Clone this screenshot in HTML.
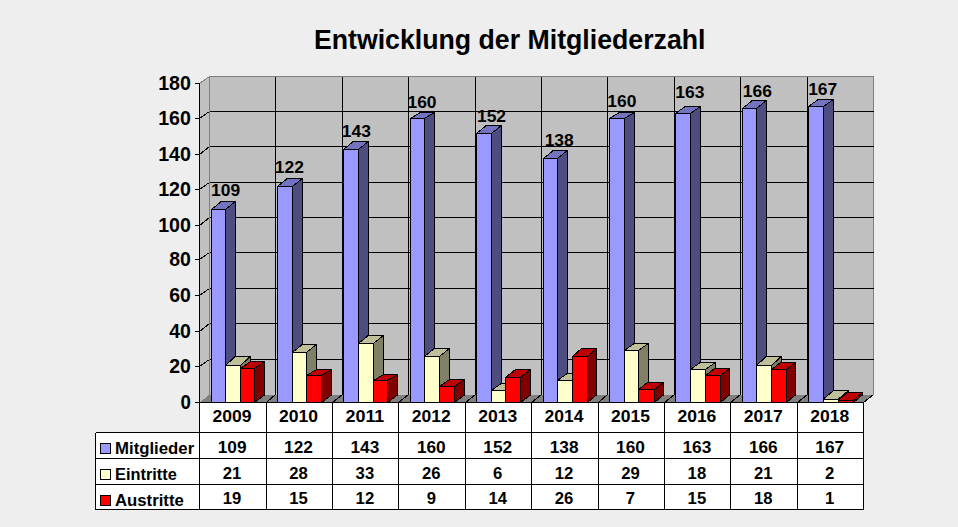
<!DOCTYPE html>
<html><head><meta charset="utf-8"><title>Entwicklung der Mitgliederzahl</title>
<style>html,body{margin:0;padding:0;background:#eeeeee;overflow:hidden}</style></head>
<body>
<svg width="958" height="527" viewBox="0 0 958 527" style="display:block;font-family:'Liberation Sans',sans-serif;font-weight:bold"><rect width="958" height="527" fill="#eeeeee"/>
<g shape-rendering="crispEdges">
<polygon points="199.5,83.5 209.5,76.5 209.5,394.5 199.5,402.5" fill="#c0c0c0"/>
<rect x="209.5" y="76.5" width="664.0" height="318.0" fill="#c0c0c0"/>
<polygon points="199.5,402.5 863.5,402.5 873.5,394.5 209.5,394.5" fill="#808080"/>
<path d="M199.5,83.5L209.5,76.5H873.5V394.5 M209.5,76.5V394.5" stroke="#808080" stroke-width="1" fill="none"/>
<path d="M195.0,402.5H199.5 M209.5,359.5H873.5 M199.5,366.5L209.5,359.5 M195.0,366.5H199.5 M209.5,323.5H873.5 M199.5,331.5L209.5,323.5 M195.0,331.5H199.5 M209.5,288.5H873.5 M199.5,295.5L209.5,288.5 M195.0,295.5H199.5 M209.5,252.5H873.5 M199.5,259.5L209.5,252.5 M195.0,259.5H199.5 M209.5,217.5H873.5 M199.5,225.5L209.5,217.5 M195.0,225.5H199.5 M209.5,182.5H873.5 M199.5,189.5L209.5,182.5 M195.0,189.5H199.5 M209.5,146.5H873.5 M199.5,154.5L209.5,146.5 M195.0,154.5H199.5 M209.5,111.5H873.5 M199.5,118.5L209.5,111.5 M195.0,118.5H199.5 M195.0,83.5H199.5 M275.5,76.5V394.5 M266.5,402.5L275.5,394.5 M342.5,76.5V394.5 M332.5,402.5L342.5,394.5 M408.5,76.5V394.5 M398.5,402.5L408.5,394.5 M475.5,76.5V394.5 M465.5,402.5L475.5,394.5 M541.5,76.5V394.5 M531.5,402.5L541.5,394.5 M607.5,76.5V394.5 M598.5,402.5L607.5,394.5 M674.5,76.5V394.5 M664.5,402.5L674.5,394.5 M740.5,76.5V394.5 M730.5,402.5L740.5,394.5 M807.5,76.5V394.5 M797.5,402.5L807.5,394.5" stroke="#000" stroke-width="1" fill="none"/>
<path d="M863.5,402.5L873.5,394.5" stroke="#000" stroke-width="1" fill="none"/>
<g stroke="#000" stroke-width="1" stroke-linejoin="round">
<polygon points="225.5,402.5 235.20,394.90 235.20,201.5 225.5,209.5" fill="#4d4d80"/><polygon points="211.5,209.5 225.5,209.5 235.20,201.5 221.20,201.5" fill="#7373bf"/><rect x="211.5" y="209.5" width="14.0" height="193.0" fill="#9999ff"/>
<polygon points="240.5,402.5 250.20,394.90 250.20,356.5 240.5,365.5" fill="#808066"/><polygon points="225.5,365.5 240.5,365.5 250.20,356.5 235.20,356.5" fill="#bfbf99"/><rect x="225.5" y="365.5" width="15.0" height="37.0" fill="#ffffcc"/>
<polygon points="254.5,402.5 264.50,394.90 264.50,361.5 254.5,368.5" fill="#800000"/><polygon points="240.5,368.5 254.5,368.5 264.50,361.5 250.50,361.5" fill="#bf0000"/><rect x="240.5" y="368.5" width="14.0" height="34.0" fill="#ff0000"/>
<polygon points="292.5,402.5 302.20,394.90 302.20,178.5 292.5,186.5" fill="#4d4d80"/><polygon points="277.5,186.5 292.5,186.5 302.20,178.5 287.20,178.5" fill="#7373bf"/><rect x="277.5" y="186.5" width="15.0" height="216.0" fill="#9999ff"/>
<polygon points="306.5,402.5 316.20,394.90 316.20,344.5 306.5,352.5" fill="#808066"/><polygon points="292.5,352.5 306.5,352.5 316.20,344.5 302.20,344.5" fill="#bfbf99"/><rect x="292.5" y="352.5" width="14.0" height="50.0" fill="#ffffcc"/>
<polygon points="321.5,402.5 331.50,394.90 331.50,369.5 321.5,375.5" fill="#800000"/><polygon points="306.5,375.5 321.5,375.5 331.50,369.5 316.50,369.5" fill="#bf0000"/><rect x="306.5" y="375.5" width="15.0" height="27.0" fill="#ff0000"/>
<polygon points="358.5,402.5 368.20,394.90 368.20,141.5 358.5,149.5" fill="#4d4d80"/><polygon points="343.5,149.5 358.5,149.5 368.20,141.5 353.20,141.5" fill="#7373bf"/><rect x="343.5" y="149.5" width="15.0" height="253.0" fill="#9999ff"/>
<polygon points="373.5,402.5 383.20,394.90 383.20,335.5 373.5,343.5" fill="#808066"/><polygon points="358.5,343.5 373.5,343.5 383.20,335.5 368.20,335.5" fill="#bfbf99"/><rect x="358.5" y="343.5" width="15.0" height="59.0" fill="#ffffcc"/>
<polygon points="387.5,402.5 397.50,394.90 397.50,374.5 387.5,380.5" fill="#800000"/><polygon points="373.5,380.5 387.5,380.5 397.50,374.5 383.50,374.5" fill="#bf0000"/><rect x="373.5" y="380.5" width="14.0" height="22.0" fill="#ff0000"/>
<polygon points="424.5,402.5 434.20,394.90 434.20,112.5 424.5,118.5" fill="#4d4d80"/><polygon points="410.5,118.5 424.5,118.5 434.20,112.5 420.20,112.5" fill="#7373bf"/><rect x="410.5" y="118.5" width="14.0" height="284.0" fill="#9999ff"/>
<polygon points="439.5,402.5 449.20,394.90 449.20,348.5 439.5,356.5" fill="#808066"/><polygon points="424.5,356.5 439.5,356.5 449.20,348.5 434.20,348.5" fill="#bfbf99"/><rect x="424.5" y="356.5" width="15.0" height="46.0" fill="#ffffcc"/>
<polygon points="454.5,402.5 464.50,394.90 464.50,379.5 454.5,386.5" fill="#800000"/><polygon points="439.5,386.5 454.5,386.5 464.50,379.5 449.50,379.5" fill="#bf0000"/><rect x="439.5" y="386.5" width="15.0" height="16.0" fill="#ff0000"/>
<polygon points="491.5,402.5 501.20,394.90 501.20,125.5 491.5,133.5" fill="#4d4d80"/><polygon points="476.5,133.5 491.5,133.5 501.20,125.5 486.20,125.5" fill="#7373bf"/><rect x="476.5" y="133.5" width="15.0" height="269.0" fill="#9999ff"/>
<polygon points="505.5,402.5 515.20,394.90 515.20,383.5 505.5,390.5" fill="#808066"/><polygon points="491.5,390.5 505.5,390.5 515.20,383.5 501.20,383.5" fill="#bfbf99"/><rect x="491.5" y="390.5" width="14.0" height="12.0" fill="#ffffcc"/>
<polygon points="520.5,402.5 530.50,394.90 530.50,369.5 520.5,377.5" fill="#800000"/><polygon points="505.5,377.5 520.5,377.5 530.50,369.5 515.50,369.5" fill="#bf0000"/><rect x="505.5" y="377.5" width="15.0" height="25.0" fill="#ff0000"/>
<polygon points="557.5,402.5 567.20,394.90 567.20,150.5 557.5,158.5" fill="#4d4d80"/><polygon points="543.5,158.5 557.5,158.5 567.20,150.5 553.20,150.5" fill="#7373bf"/><rect x="543.5" y="158.5" width="14.0" height="244.0" fill="#9999ff"/>
<polygon points="572.5,402.5 582.20,394.90 582.20,373.5 572.5,380.5" fill="#808066"/><polygon points="557.5,380.5 572.5,380.5 582.20,373.5 567.20,373.5" fill="#bfbf99"/><rect x="557.5" y="380.5" width="15.0" height="22.0" fill="#ffffcc"/>
<polygon points="587.5,402.5 596.50,394.90 596.50,348.5 587.5,356.5" fill="#800000"/><polygon points="572.5,356.5 587.5,356.5 596.50,348.5 581.50,348.5" fill="#bf0000"/><rect x="572.5" y="356.5" width="15.0" height="46.0" fill="#ff0000"/>
<polygon points="624.5,402.5 634.20,394.90 634.20,112.5 624.5,118.5" fill="#4d4d80"/><polygon points="609.5,118.5 624.5,118.5 634.20,112.5 619.20,112.5" fill="#7373bf"/><rect x="609.5" y="118.5" width="15.0" height="284.0" fill="#9999ff"/>
<polygon points="638.5,402.5 648.20,394.90 648.20,343.5 638.5,350.5" fill="#808066"/><polygon points="624.5,350.5 638.5,350.5 648.20,343.5 634.20,343.5" fill="#bfbf99"/><rect x="624.5" y="350.5" width="14.0" height="52.0" fill="#ffffcc"/>
<polygon points="654.5,402.5 663.50,394.90 663.50,382.5 654.5,389.5" fill="#800000"/><polygon points="638.5,389.5 654.5,389.5 663.50,382.5 647.50,382.5" fill="#bf0000"/><rect x="638.5" y="389.5" width="16.0" height="13.0" fill="#ff0000"/>
<polygon points="690.5,402.5 700.20,394.90 700.20,106.5 690.5,113.5" fill="#4d4d80"/><polygon points="675.5,113.5 690.5,113.5 700.20,106.5 685.20,106.5" fill="#7373bf"/><rect x="675.5" y="113.5" width="15.0" height="289.0" fill="#9999ff"/>
<polygon points="705.5,402.5 715.20,394.90 715.20,362.5 705.5,369.5" fill="#808066"/><polygon points="690.5,369.5 705.5,369.5 715.20,362.5 700.20,362.5" fill="#bfbf99"/><rect x="690.5" y="369.5" width="15.0" height="33.0" fill="#ffffcc"/>
<polygon points="720.5,402.5 729.50,394.90 729.50,368.5 720.5,375.5" fill="#800000"/><polygon points="705.5,375.5 720.5,375.5 729.50,368.5 714.50,368.5" fill="#bf0000"/><rect x="705.5" y="375.5" width="15.0" height="27.0" fill="#ff0000"/>
<polygon points="756.5,402.5 766.20,394.90 766.20,100.5 756.5,108.5" fill="#4d4d80"/><polygon points="742.5,108.5 756.5,108.5 766.20,100.5 752.20,100.5" fill="#7373bf"/><rect x="742.5" y="108.5" width="14.0" height="294.0" fill="#9999ff"/>
<polygon points="771.5,402.5 781.20,394.90 781.20,356.5 771.5,365.5" fill="#808066"/><polygon points="756.5,365.5 771.5,365.5 781.20,356.5 766.20,356.5" fill="#bfbf99"/><rect x="756.5" y="365.5" width="15.0" height="37.0" fill="#ffffcc"/>
<polygon points="786.5,402.5 795.50,394.90 795.50,362.5 786.5,369.5" fill="#800000"/><polygon points="771.5,369.5 786.5,369.5 795.50,362.5 780.50,362.5" fill="#bf0000"/><rect x="771.5" y="369.5" width="15.0" height="33.0" fill="#ff0000"/>
<polygon points="823.5,402.5 833.20,394.90 833.20,99.5 823.5,106.5" fill="#4d4d80"/><polygon points="808.5,106.5 823.5,106.5 833.20,99.5 818.20,99.5" fill="#7373bf"/><rect x="808.5" y="106.5" width="15.0" height="296.0" fill="#9999ff"/>
<polygon points="838.5,402.5 848.20,394.90 848.20,390.9 838.5,399.0" fill="#808066"/><polygon points="823.5,399.0 838.5,399.0 848.20,390.9 833.20,390.9" fill="#bfbf99"/><rect x="823.5" y="399.0" width="15.0" height="3.5" fill="#ffffcc"/>
<polygon points="853.5,402.5 862.50,394.90 862.50,392.5 853.5,400.0" fill="#800000"/><polygon points="838.5,400.0 853.5,400.0 862.50,392.5 847.50,392.5" fill="#bf0000"/><rect x="838.5" y="400.0" width="15.0" height="2.5" fill="#ff0000"/>
</g>
<rect x="199.5" y="402.5" width="664.0" height="107.0" fill="#fff"/>
<rect x="95.5" y="432.5" width="104.0" height="77.0" fill="#fff"/>
<path d="M199.5,402.5V509.5 M266.5,402.5V509.5 M332.5,402.5V509.5 M398.5,402.5V509.5 M465.5,402.5V509.5 M531.5,402.5V509.5 M598.5,402.5V509.5 M664.5,402.5V509.5 M730.5,402.5V509.5 M797.5,402.5V509.5 M863.5,402.5V509.5 M95.5,432.5V509.5 M95.5,432.5H863.5 M95.5,458.5H863.5 M95.5,484.5H863.5 M95.5,509.5H863.5" stroke="#000" stroke-width="1" fill="none"/>
<path d="M199.5,83.5V402.5 M195.0,402.5H863.5" stroke="#000" stroke-width="1" fill="none"/>
<rect x="100.5" y="443.5" width="10" height="10" fill="#9999ff" stroke="#000" stroke-width="1"/>
<rect x="100.5" y="469.5" width="10" height="10" fill="#ffffcc" stroke="#000" stroke-width="1"/>
<rect x="100.5" y="495.5" width="10" height="10" fill="#ff0000" stroke="#000" stroke-width="1"/>
</g>
<text x="232.10" y="421.60" font-size="16.1" text-anchor="middle" textLength="38.94" lengthAdjust="spacingAndGlyphs">2009</text>
<text x="232.10" y="452.60" font-size="16.1" text-anchor="middle" textLength="28.79" lengthAdjust="spacingAndGlyphs">109</text>
<text x="232.10" y="478.80" font-size="16.1" text-anchor="middle" textLength="18.54" lengthAdjust="spacingAndGlyphs">21</text>
<text x="232.10" y="504.40" font-size="16.1" text-anchor="middle" textLength="18.54" lengthAdjust="spacingAndGlyphs">19</text>
<text x="298.50" y="421.60" font-size="16.1" text-anchor="middle" textLength="38.94" lengthAdjust="spacingAndGlyphs">2010</text>
<text x="298.50" y="452.60" font-size="16.1" text-anchor="middle" textLength="28.79" lengthAdjust="spacingAndGlyphs">122</text>
<text x="298.50" y="478.80" font-size="16.1" text-anchor="middle" textLength="18.54" lengthAdjust="spacingAndGlyphs">28</text>
<text x="298.50" y="504.40" font-size="16.1" text-anchor="middle" textLength="18.54" lengthAdjust="spacingAndGlyphs">15</text>
<text x="364.90" y="421.60" font-size="16.1" text-anchor="middle" textLength="38.94" lengthAdjust="spacingAndGlyphs">2011</text>
<text x="364.90" y="452.60" font-size="16.1" text-anchor="middle" textLength="28.79" lengthAdjust="spacingAndGlyphs">143</text>
<text x="364.90" y="478.80" font-size="16.1" text-anchor="middle" textLength="18.54" lengthAdjust="spacingAndGlyphs">33</text>
<text x="364.90" y="504.40" font-size="16.1" text-anchor="middle" textLength="18.54" lengthAdjust="spacingAndGlyphs">12</text>
<text x="431.30" y="421.60" font-size="16.1" text-anchor="middle" textLength="38.94" lengthAdjust="spacingAndGlyphs">2012</text>
<text x="431.30" y="452.60" font-size="16.1" text-anchor="middle" textLength="28.79" lengthAdjust="spacingAndGlyphs">160</text>
<text x="431.30" y="478.80" font-size="16.1" text-anchor="middle" textLength="18.54" lengthAdjust="spacingAndGlyphs">26</text>
<text x="431.30" y="504.40" font-size="16.1" text-anchor="middle" textLength="9.27" lengthAdjust="spacingAndGlyphs">9</text>
<text x="497.70" y="421.60" font-size="16.1" text-anchor="middle" textLength="38.94" lengthAdjust="spacingAndGlyphs">2013</text>
<text x="497.70" y="452.60" font-size="16.1" text-anchor="middle" textLength="28.79" lengthAdjust="spacingAndGlyphs">152</text>
<text x="497.70" y="478.80" font-size="16.1" text-anchor="middle" textLength="9.27" lengthAdjust="spacingAndGlyphs">6</text>
<text x="497.70" y="504.40" font-size="16.1" text-anchor="middle" textLength="18.54" lengthAdjust="spacingAndGlyphs">14</text>
<text x="564.10" y="421.60" font-size="16.1" text-anchor="middle" textLength="38.94" lengthAdjust="spacingAndGlyphs">2014</text>
<text x="564.10" y="452.60" font-size="16.1" text-anchor="middle" textLength="28.79" lengthAdjust="spacingAndGlyphs">138</text>
<text x="564.10" y="478.80" font-size="16.1" text-anchor="middle" textLength="18.54" lengthAdjust="spacingAndGlyphs">12</text>
<text x="564.10" y="504.40" font-size="16.1" text-anchor="middle" textLength="18.54" lengthAdjust="spacingAndGlyphs">26</text>
<text x="630.50" y="421.60" font-size="16.1" text-anchor="middle" textLength="38.94" lengthAdjust="spacingAndGlyphs">2015</text>
<text x="630.50" y="452.60" font-size="16.1" text-anchor="middle" textLength="28.79" lengthAdjust="spacingAndGlyphs">160</text>
<text x="630.50" y="478.80" font-size="16.1" text-anchor="middle" textLength="18.54" lengthAdjust="spacingAndGlyphs">29</text>
<text x="630.50" y="504.40" font-size="16.1" text-anchor="middle" textLength="9.27" lengthAdjust="spacingAndGlyphs">7</text>
<text x="696.90" y="421.60" font-size="16.1" text-anchor="middle" textLength="38.94" lengthAdjust="spacingAndGlyphs">2016</text>
<text x="696.90" y="452.60" font-size="16.1" text-anchor="middle" textLength="28.79" lengthAdjust="spacingAndGlyphs">163</text>
<text x="696.90" y="478.80" font-size="16.1" text-anchor="middle" textLength="18.54" lengthAdjust="spacingAndGlyphs">18</text>
<text x="696.90" y="504.40" font-size="16.1" text-anchor="middle" textLength="18.54" lengthAdjust="spacingAndGlyphs">15</text>
<text x="763.30" y="421.60" font-size="16.1" text-anchor="middle" textLength="38.94" lengthAdjust="spacingAndGlyphs">2017</text>
<text x="763.30" y="452.60" font-size="16.1" text-anchor="middle" textLength="28.79" lengthAdjust="spacingAndGlyphs">166</text>
<text x="763.30" y="478.80" font-size="16.1" text-anchor="middle" textLength="18.54" lengthAdjust="spacingAndGlyphs">21</text>
<text x="763.30" y="504.40" font-size="16.1" text-anchor="middle" textLength="18.54" lengthAdjust="spacingAndGlyphs">18</text>
<text x="829.70" y="421.60" font-size="16.1" text-anchor="middle" textLength="38.94" lengthAdjust="spacingAndGlyphs">2018</text>
<text x="829.70" y="452.60" font-size="16.1" text-anchor="middle" textLength="28.79" lengthAdjust="spacingAndGlyphs">167</text>
<text x="829.70" y="478.80" font-size="16.1" text-anchor="middle" textLength="9.27" lengthAdjust="spacingAndGlyphs">2</text>
<text x="829.70" y="504.40" font-size="16.1" text-anchor="middle" textLength="9.27" lengthAdjust="spacingAndGlyphs">1</text>
<text x="225.60" y="195.90" font-size="16.67" text-anchor="middle" textLength="29.06" lengthAdjust="spacingAndGlyphs">109</text>
<text x="289.40" y="172.60" font-size="16.67" text-anchor="middle" textLength="29.06" lengthAdjust="spacingAndGlyphs">122</text>
<text x="356.30" y="137.00" font-size="16.67" text-anchor="middle" textLength="29.06" lengthAdjust="spacingAndGlyphs">143</text>
<text x="422.00" y="107.50" font-size="16.67" text-anchor="middle" textLength="29.06" lengthAdjust="spacingAndGlyphs">160</text>
<text x="491.50" y="122.20" font-size="16.67" text-anchor="middle" textLength="29.06" lengthAdjust="spacingAndGlyphs">152</text>
<text x="559.20" y="146.20" font-size="16.67" text-anchor="middle" textLength="29.06" lengthAdjust="spacingAndGlyphs">138</text>
<text x="621.80" y="106.60" font-size="16.67" text-anchor="middle" textLength="29.06" lengthAdjust="spacingAndGlyphs">160</text>
<text x="689.90" y="98.10" font-size="16.67" text-anchor="middle" textLength="29.06" lengthAdjust="spacingAndGlyphs">163</text>
<text x="757.40" y="96.50" font-size="16.67" text-anchor="middle" textLength="29.06" lengthAdjust="spacingAndGlyphs">166</text>
<text x="822.70" y="94.75" font-size="16.67" text-anchor="middle" textLength="29.06" lengthAdjust="spacingAndGlyphs">167</text>
<text x="115.00" y="453.50" font-size="16.2" text-anchor="start" textLength="79.20" lengthAdjust="spacingAndGlyphs">Mitglieder</text>
<text x="115.00" y="479.50" font-size="16.2" text-anchor="start" textLength="61.80" lengthAdjust="spacingAndGlyphs">Eintritte</text>
<text x="115.00" y="505.50" font-size="16.2" text-anchor="start" textLength="68.80" lengthAdjust="spacingAndGlyphs">Austritte</text>
<text x="190.90" y="409.10" font-size="19.3" text-anchor="end" textLength="10.38" lengthAdjust="spacingAndGlyphs">0</text>
<text x="190.90" y="373.10" font-size="19.3" text-anchor="end" textLength="21.60" lengthAdjust="spacingAndGlyphs">20</text>
<text x="190.90" y="338.10" font-size="19.3" text-anchor="end" textLength="21.60" lengthAdjust="spacingAndGlyphs">40</text>
<text x="190.90" y="302.10" font-size="19.3" text-anchor="end" textLength="21.60" lengthAdjust="spacingAndGlyphs">60</text>
<text x="190.90" y="266.10" font-size="19.3" text-anchor="end" textLength="21.60" lengthAdjust="spacingAndGlyphs">80</text>
<text x="190.90" y="232.10" font-size="19.3" text-anchor="end" textLength="32.71" lengthAdjust="spacingAndGlyphs">100</text>
<text x="190.90" y="196.10" font-size="19.3" text-anchor="end" textLength="32.71" lengthAdjust="spacingAndGlyphs">120</text>
<text x="190.90" y="161.10" font-size="19.3" text-anchor="end" textLength="32.71" lengthAdjust="spacingAndGlyphs">140</text>
<text x="190.90" y="125.10" font-size="19.3" text-anchor="end" textLength="32.71" lengthAdjust="spacingAndGlyphs">160</text>
<text x="190.90" y="90.10" font-size="19.3" text-anchor="end" textLength="32.71" lengthAdjust="spacingAndGlyphs">180</text>
<text x="509.70" y="48.80" font-size="28.3" text-anchor="middle" textLength="391.65" lengthAdjust="spacingAndGlyphs">Entwicklung der Mitgliederzahl</text>
</svg>
</body></html>
